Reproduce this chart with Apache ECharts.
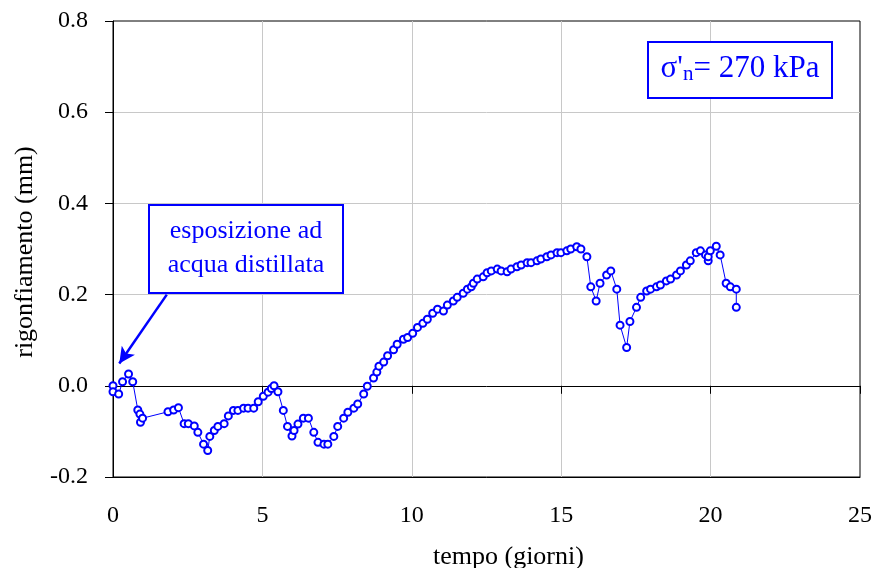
<!DOCTYPE html>
<html>
<head>
<meta charset="utf-8">
<script src="https://cdn.jsdelivr.net/npm/echarts@6/dist/echarts.min.js"></script>
<style>html,body{margin:0;padding:0;background:#fff}#c{width:875px;height:568px}</style>
</head>
<body>
<div id="c"></div>
<script>
const days = [0.00,0.00,0.19,0.32,0.52,0.66,0.83,0.90,0.92,0.99,1.84,2.03,2.19,2.38,2.52,2.72,2.84,3.03,3.17,3.24,3.39,3.51,3.72,3.86,4.03,4.18,4.37,4.52,4.71,4.86,5.03,5.19,5.30,5.39,5.52,5.70,5.84,5.99,6.06,6.19,6.37,6.54,6.72,6.86,7.06,7.19,7.39,7.52,7.72,7.86,8.06,8.19,8.39,8.51,8.72,8.83,8.90,9.06,9.19,9.39,9.51,9.72,9.86,10.03,10.19,10.37,10.52,10.70,10.86,11.06,11.19,11.39,11.52,11.72,11.86,11.99,12.06,12.19,12.39,12.52,12.66,12.86,12.99,13.19,13.32,13.52,13.66,13.86,13.99,14.19,14.32,14.52,14.66,14.86,14.99,15.19,15.32,15.52,15.66,15.86,15.99,16.17,16.30,16.52,16.66,16.86,16.97,17.19,17.30,17.52,17.66,17.86,17.99,18.19,18.32,18.52,18.66,18.86,18.99,19.19,19.32,19.52,19.66,19.83,19.92,19.92,19.99,20.19,20.32,20.52,20.66,20.86,20.86];
const swelling = [0.000,-0.013,-0.018,0.009,0.026,0.009,-0.053,-0.062,-0.080,-0.071,-0.057,-0.053,-0.048,-0.083,-0.083,-0.088,-0.102,-0.128,-0.142,-0.111,-0.098,-0.089,-0.083,-0.066,-0.054,-0.054,-0.049,-0.049,-0.049,-0.035,-0.023,-0.014,-0.006,0.000,-0.013,-0.054,-0.089,-0.110,-0.098,-0.084,-0.071,-0.071,-0.102,-0.124,-0.128,-0.128,-0.111,-0.089,-0.071,-0.058,-0.049,-0.040,-0.018,-0.001,0.017,0.030,0.043,0.052,0.066,0.079,0.091,0.102,0.106,0.115,0.128,0.137,0.146,0.159,0.168,0.164,0.177,0.186,0.194,0.203,0.212,0.217,0.225,0.234,0.239,0.248,0.252,0.256,0.252,0.250,0.256,0.261,0.265,0.270,0.270,0.274,0.278,0.283,0.287,0.292,0.292,0.296,0.300,0.305,0.300,0.283,0.217,0.186,0.225,0.243,0.252,0.212,0.133,0.084,0.141,0.172,0.194,0.208,0.212,0.217,0.221,0.230,0.234,0.243,0.252,0.265,0.274,0.292,0.296,0.287,0.274,0.283,0.296,0.306,0.287,0.225,0.217,0.212,0.172];
const xTitle = 'tempo (giorni)';
const yTitle = 'rigonfiamento (mm)';
const noteText = 'esposizione ad\nacqua distillata';
const stressText = "{a|σ'}{b|n}{a|= 270 kPa}";
const arrowFrom = [1.8, 0.2];
const arrowTo = [0.21, 0.049];

const FONT = "'Liberation Serif','Times New Roman',serif";
const BLUE = '#0000ff';
const points = days.map((d, i) => [d, swelling[i]]);

const chart = echarts.init(document.getElementById('c'), null, {renderer: 'canvas'});
chart.setOption({
  animation: false,
  backgroundColor: '#fff',
  grid: {left: 113, right: 13, top: 21, bottom: 91, show: true, borderColor: '#000', borderWidth: 1, backgroundColor: 'transparent'},
  xAxis: [{
    type: 'value', min: 0, max: 25, interval: 5, position: 'bottom',
    axisLine: {onZero: false, lineStyle: {color: '#000', width: 1}},
    axisTick: {show: false},
    axisLabel: {fontFamily: FONT, fontSize: 24, color: '#000', margin: 27},
    splitLine: {show: true, showMinLine: false, showMaxLine: false, lineStyle: {color: '#c8c8c8', width: 1}}
  }, {
    type: 'value', min: 0, max: 25, interval: 5, position: 'bottom',
    axisLine: {onZero: true, lineStyle: {color: '#000', width: 1}},
    axisTick: {show: true, length: 8, lineStyle: {color: '#000'}},
    axisLabel: {show: false},
    splitLine: {show: false}
  }],
  yAxis: {
    type: 'value', min: -0.2, max: 0.8, interval: 0.2,
    axisLine: {show: true, lineStyle: {color: '#000', width: 1}},
    axisTick: {show: true, length: 8, lineStyle: {color: '#000'}},
    axisLabel: {fontFamily: FONT, fontSize: 24, color: '#000', margin: 25, formatter: v => v.toFixed(1)},
    splitLine: {show: true, showMinLine: false, showMaxLine: false, lineStyle: {color: '#c8c8c8', width: 1}}
  },
  series: [{
    type: 'line', xAxisIndex: 0, data: points,
    symbol: 'emptyCircle', symbolSize: 7,
    lineStyle: {color: BLUE, width: 1},
    itemStyle: {color: BLUE, borderColor: BLUE, borderWidth: 1.5},
    markLine: {
      silent: true, animation: false,
      symbol: ['none', 'arrow'], symbolSize: [12, 16],
      lineStyle: {color: BLUE, width: 2.5, type: 'solid'},
      label: {show: false},
      data: [[{coord: arrowFrom}, {coord: arrowTo}]]
    }
  }],
  graphic: [
    {type: 'text', left: 433, top: 544, style: {text: xTitle, font: '26px ' + FONT, fill: '#000'}},
    {type: 'text', x: 25, y: 252, rotation: Math.PI / 2, style: {text: yTitle, font: '26px ' + FONT, fill: '#000', align: 'center', verticalAlign: 'middle'}},
    {type: 'rect', z: 100, shape: {x: 149, y: 205, width: 194, height: 88}, style: {fill: '#fff', stroke: BLUE, lineWidth: 2}},
    {type: 'text', z: 101, x: 246, y: 248, style: {text: noteText, font: '26px ' + FONT, fill: BLUE, align: 'center', verticalAlign: 'middle', lineHeight: 34}},
    {type: 'rect', z: 100, shape: {x: 648, y: 42, width: 184, height: 56}, style: {fill: '#fff', stroke: BLUE, lineWidth: 2}},
    {type: 'text', z: 101, x: 740, y: 69, style: {text: stressText, align: 'center', verticalAlign: 'middle', fill: BLUE,
      rich: {
        a: {fontFamily: FONT, fontSize: 31, color: BLUE, lineHeight: 31, verticalAlign: 'bottom'},
        b: {fontFamily: FONT, fontSize: 21, color: BLUE, lineHeight: 21, verticalAlign: 'bottom'}
      }}}
  ]
});
</script>
</body>
</html>
